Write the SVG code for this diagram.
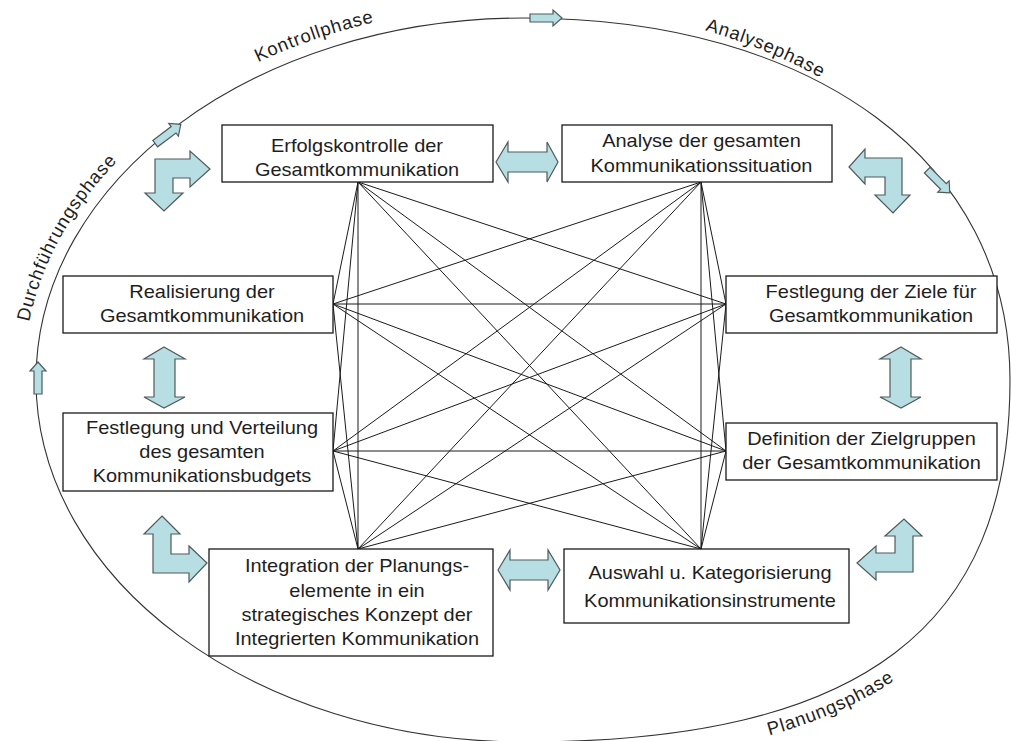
<svg xmlns="http://www.w3.org/2000/svg" width="1011" height="741" viewBox="0 0 1011 741">
<style>
.box{fill:#fff;stroke:#1a1a1a;stroke-width:1.3}
.t{font-family:"Liberation Sans",Arial,sans-serif;font-size:18px;fill:#1e1e1e;text-anchor:middle}
.ph{font-family:"Liberation Sans",Arial,sans-serif;font-size:18.5px;letter-spacing:0.8px;fill:#1e1e1e}
.arw{fill:#b7dee2;stroke:#4f5a5c;stroke-width:1.2;stroke-linejoin:miter}
.ln{stroke:#1a1a1a;stroke-width:1;fill:none}
.ring{fill:none;stroke:#333;stroke-width:1.1}
</style>
<defs>
<polygon id="sa" points="-16,-4 7,-4 7,-8 16,0 7,8 7,4 -16,4" class="arw"/>
<path id="pDurch" d="M 29,322 A 501 375 0 0 1 163,120"/>
<path id="pKontr" d="M 258,62.3 A 501 375 0 0 1 524,5"/>
<path id="pAnal" d="M 705,30.3 A 501 375 0 0 1 1025,380"/>
<path id="pPlan" d="M 748,741 Q 846,717 908,671"/>
</defs>

<g id="cycle">
<path class="ring" d="M 524,18 C 815.6,18 1010,162.8 1010,380 C 1010,626 864,742 524,742 C 254.6,742 36,579.8 36,380 C 36,180.2 254.6,18 524,18 Z"/>
<use href="#sa" transform="translate(546 18)"/>
<use href="#sa" transform="translate(168 134) rotate(-37)"/>
<use href="#sa" transform="translate(938.5 181.5) rotate(45)"/>
<use href="#sa" transform="translate(38 378) rotate(-90)"/>
<text class="ph"><textPath href="#pDurch">Durchführungsphase</textPath></text>
<text class="ph"><textPath href="#pKontr">Kontrollphase</textPath></text>
<text class="ph"><textPath href="#pAnal">Analysephase</textPath></text>
<text class="ph"><textPath href="#pPlan" startOffset="22">Planungsphase</textPath></text>
</g>

<g id="connectors" class="ln">
<line x1="358" y1="182" x2="333" y2="304"/>
<line x1="358" y1="182" x2="333" y2="451"/>
<line x1="358" y1="182" x2="726" y2="304"/>
<line x1="358" y1="182" x2="726" y2="451"/>
<line x1="358" y1="182" x2="358" y2="549"/>
<line x1="358" y1="182" x2="701" y2="549"/>
<line x1="701" y1="182" x2="333" y2="304"/>
<line x1="701" y1="182" x2="333" y2="451"/>
<line x1="701" y1="182" x2="726" y2="304"/>
<line x1="701" y1="182" x2="726" y2="451"/>
<line x1="701" y1="182" x2="358" y2="549"/>
<line x1="701" y1="182" x2="701" y2="549"/>
<line x1="333" y1="304" x2="726" y2="304"/>
<line x1="333" y1="304" x2="726" y2="451"/>
<line x1="333" y1="304" x2="358" y2="549"/>
<line x1="333" y1="304" x2="701" y2="549"/>
<line x1="333" y1="451" x2="726" y2="304"/>
<line x1="333" y1="451" x2="726" y2="451"/>
<line x1="333" y1="451" x2="358" y2="549"/>
<line x1="333" y1="451" x2="701" y2="549"/>
<line x1="726" y1="304" x2="358" y2="549"/>
<line x1="726" y1="304" x2="701" y2="549"/>
<line x1="726" y1="451" x2="358" y2="549"/>
<line x1="726" y1="451" x2="701" y2="549"/>
</g>

<g id="arrows">
<polygon class="arw" points="155,159 190,159 190,151 210,169 190,187 190,178 173,178 173,193 183,193 164,211 145,193 155,193"/>
<polygon class="arw" points="496,162 508,142 508,152 547,152 547,142 558,162 547,182 547,172 508,172 508,182"/>
<polygon class="arw" points="849,167 865,149 865,158 902,158 902,195 910,195 893,213 875,195 885,195 885,177 865,177 865,184"/>
<polygon class="arw" points="164,347 185,359 175,359 175,397 185,397 164,408 144,397 154,397 154,359 144,359"/>
<polygon class="arw" points="901,347 921,359 911,359 911,397 921,397 901,408 880,397 890,397 890,359 880,359"/>
<polygon class="arw" points="162,516 180,534 171,534 171,554 189,554 189,546 207,563 189,582 189,573 153,573 153,534 144,534"/>
<polygon class="arw" points="498,570 510,550 510,560 548,560 548,550 560,570 548,590 548,580 510,580 510,590"/>
<polygon class="arw" points="857,563 876,546 876,553 895,553 895,536 885,536 904,519 922,536 913,536 913,572 876,572 876,580"/>
</g>

<g id="erfolgskontrolle">
<rect class="box" x="222" y="125" width="271" height="57"/>
<text class="t" transform="translate(357 0) scale(1.11 1)"><tspan x="0" y="152">Erfolgskontrolle der</tspan><tspan x="0" y="176">Gesamtkommunikation</tspan></text>
</g>
<g id="analyse">
<rect class="box" x="562" y="125" width="270" height="57"/>
<text class="t" transform="translate(701.5 0) scale(1.11 1)"><tspan x="0" y="147">Analyse der gesamten</tspan><tspan x="0" y="172">Kommunikationssituation</tspan></text>
</g>
<g id="realisierung">
<rect class="box" x="63" y="276" width="270" height="57"/>
<text class="t" transform="translate(202 0) scale(1.11 1)"><tspan x="0" y="298">Realisierung der</tspan><tspan x="0" y="322">Gesamtkommunikation</tspan></text>
</g>
<g id="budget">
<rect class="box" x="63" y="413" width="270" height="78"/>
<text class="t" transform="translate(202 0) scale(1.11 1)"><tspan x="0" y="434">Festlegung und Verteilung</tspan><tspan x="0" y="458">des gesamten</tspan><tspan x="0" y="482">Kommunikationsbudgets</tspan></text>
</g>
<g id="ziele">
<rect class="box" x="726" y="276" width="271" height="57"/>
<text class="t" transform="translate(871 0) scale(1.11 1)"><tspan x="0" y="298">Festlegung der Ziele für</tspan><tspan x="0" y="322">Gesamtkommunikation</tspan></text>
</g>
<g id="zielgruppen">
<rect class="box" x="726" y="423" width="271" height="57"/>
<text class="t" transform="translate(861.5 0) scale(1.11 1)"><tspan x="0" y="445">Definition der Zielgruppen</tspan><tspan x="0" y="469">der Gesamtkommunikation</tspan></text>
</g>
<g id="integration">
<rect class="box" x="209" y="549" width="284" height="107"/>
<text class="t" transform="translate(357 0) scale(1.11 1)"><tspan x="0" y="572">Integration der Planungs-</tspan><tspan x="0" y="597">elemente in ein</tspan><tspan x="0" y="621">strategisches Konzept der</tspan><tspan x="0" y="645">Integrierten Kommunikation</tspan></text>
</g>
<g id="auswahl">
<rect class="box" x="564" y="549" width="285" height="74"/>
<text class="t" transform="translate(710 0) scale(1.11 1)"><tspan x="0" y="579">Auswahl u. Kategorisierung</tspan><tspan x="0" y="607">Kommunikationsinstrumente</tspan></text>
</g>
</svg>
